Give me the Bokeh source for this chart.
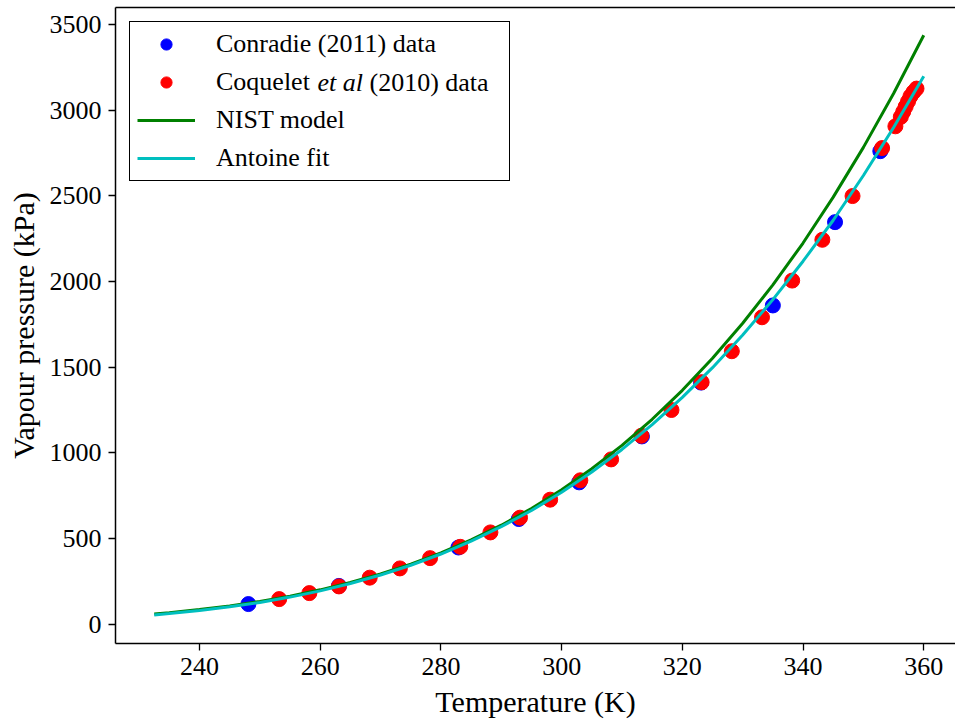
from bokeh.plotting import figure
from bokeh.models import Range1d, FixedTicker, LinearAxis, Legend, LegendItem
from bokeh.core.properties import value
from bokeh.embed import file_html
from bokeh.resources import INLINE

# ---------------- data ----------------
conradie_T = [248.1, 263.1, 282.9, 292.9, 302.9, 313.3, 323.1, 335.0, 345.3, 352.8]
conradie_P = [118, 224, 448, 614, 828, 1096, 1410, 1860, 2346, 2760]

coquelet_T = [253.2, 258.2, 263.1, 268.2, 273.2, 278.2, 283.2, 288.2, 293.1, 298.1,
              303.1, 308.2, 313.2, 318.2, 323.2, 328.2, 333.2, 338.2, 343.2, 348.2,
              353.1, 355.3, 356.2, 356.6, 357.0, 357.4, 357.8, 358.3, 358.8]
coquelet_P = [147, 182, 221, 272, 326, 386, 452, 536, 622, 727,
              840, 962, 1100, 1250, 1412, 1593, 1791, 2005, 2243, 2498,
              2778, 2905, 2960, 2990, 3020, 3050, 3080, 3105, 3125]

nist_T = [232.5, 235, 240, 245, 250, 255, 260, 265, 270, 275, 280, 285, 290, 295,
          300, 305, 310, 315, 320, 325, 330, 335, 340, 345, 350, 355, 360]
nist_P = [60.0, 67.7, 85.7, 107.4, 133.5, 164.4, 201.0, 243.7, 293.3, 350.7, 416.9,
          492.4, 578.0, 675.5, 784.9, 907.8, 1044, 1196, 1365, 1552, 1756, 1980,
          2224, 2492, 2782, 3096, 3436]

antoine_T = [232.5, 235, 240, 245, 250, 255, 260, 265, 270, 275, 280, 285, 290, 295,
             300, 305, 310, 315, 320, 325, 330, 335, 340, 345, 350, 355, 360]
antoine_P = [54.9, 62.5, 80.2, 101.8, 127.7, 158.7, 195.0, 237.7, 287.4, 344.5, 410.0,
             484.6, 569.6, 663.7, 770.1, 888.4, 1020, 1165, 1324, 1497, 1688, 1894,
             2118, 2357, 2618, 2898, 3197]

x_ticks = [240, 260, 280, 300, 320, 340, 360]
y_ticks = [0, 500, 1000, 1500, 2000, 2500, 3000, 3500]

FONT = "Liberation Serif"
X0, X1 = 226.08, 365.26
Y0, Y1 = -112, 3598
FW, FH = 840, 636

p = figure(output_backend="svg", toolbar_location=None,
           frame_width=FW, frame_height=FH,
           min_border_left=115, min_border_right=0, min_border_top=7, min_border_bottom=79,
           x_range=Range1d(X0, X1), y_range=Range1d(Y0, Y1),
           background_fill_color="white", border_fill_color="white")
p.outline_line_color = None
p.xgrid.visible = False
p.ygrid.visible = False

for ax, ticks in ((p.xaxis[0], x_ticks), (p.yaxis[0], y_ticks)):
    ax.ticker = FixedTicker(ticks=ticks)
    ax.minor_tick_line_color = None
    ax.major_tick_in = 0
    ax.major_tick_out = 7
    ax.major_tick_line_width = 1.3
    ax.major_tick_line_color = "black"
    ax.axis_line_width = 1.5
    ax.axis_line_color = "black"
    ax.major_label_text_font = FONT
    ax.major_label_text_font_size = "26px"
    ax.major_label_text_color = "black"
    ax.major_label_standoff = 7
    ax.axis_label_text_font = FONT
    ax.axis_label_text_font_size = "30px"
    ax.axis_label_text_font_style = "normal"
    ax.axis_label_text_color = "black"
    ax.axis_label_standoff = 7

p.xaxis.axis_label = "Temperature (K)"
p.yaxis.axis_label = "Vapour pressure (kPa)"

top = LinearAxis(ticker=FixedTicker(ticks=[]), major_label_text_font_size="0px",
                 major_tick_out=0, major_tick_in=0, major_label_standoff=0,
                 minor_tick_line_color=None, axis_line_width=1.5, axis_line_color="black")
p.add_layout(top, "above")

# remaining parts of the second legend label ("et al" in italics), placed by pixel position
def px_to_data(px, py):
    return (X0 + (px - 115) * (X1 - X0) / FW, Y1 - (py - 7) * (Y1 - Y0) / FH)

ROW2_Y = 81.5
ex, ey = px_to_data(317, ROW2_Y)
p.text(x=[ex], y=[ey], text=["et al"], text_font=value(FONT), text_font_size="26px",
       text_font_style="italic", text_baseline="middle", text_align="left",
       text_color="black")
dx, dy = px_to_data(369, ROW2_Y)
p.text(x=[dx], y=[dy], text=["(2010) data"], text_font=value(FONT), text_font_size="26px",
       text_baseline="middle", text_align="left", text_color="black")

r_blue = p.scatter(conradie_T, conradie_P, size=15, color="#0000FF")
r_red = p.scatter(coquelet_T, coquelet_P, size=15, color="#FF0000")
r_green = p.line(nist_T, nist_P, line_width=3, color="#008000")
r_cyan = p.line(antoine_T, antoine_P, line_width=3, color="#00BFBF")

legend = Legend(items=[
    LegendItem(label="Conradie (2011) data", renderers=[r_blue]),
    LegendItem(label="Coquelet", renderers=[r_red]),
    LegendItem(label="NIST model", renderers=[r_green]),
    LegendItem(label="Antoine fit", renderers=[r_cyan]),
], location="top_left", margin=14, padding=7, spacing=8,
    glyph_width=58, glyph_height=28, label_standoff=21, label_height=28, label_width=286,
    label_text_font=FONT, label_text_font_size="26px", label_text_color="black",
    border_line_color="black", border_line_width=1.5, border_line_alpha=1.0,
    background_fill_alpha=0.0)
p.add_layout(legend)

open("out.html", "w").write(file_html(p, INLINE))
